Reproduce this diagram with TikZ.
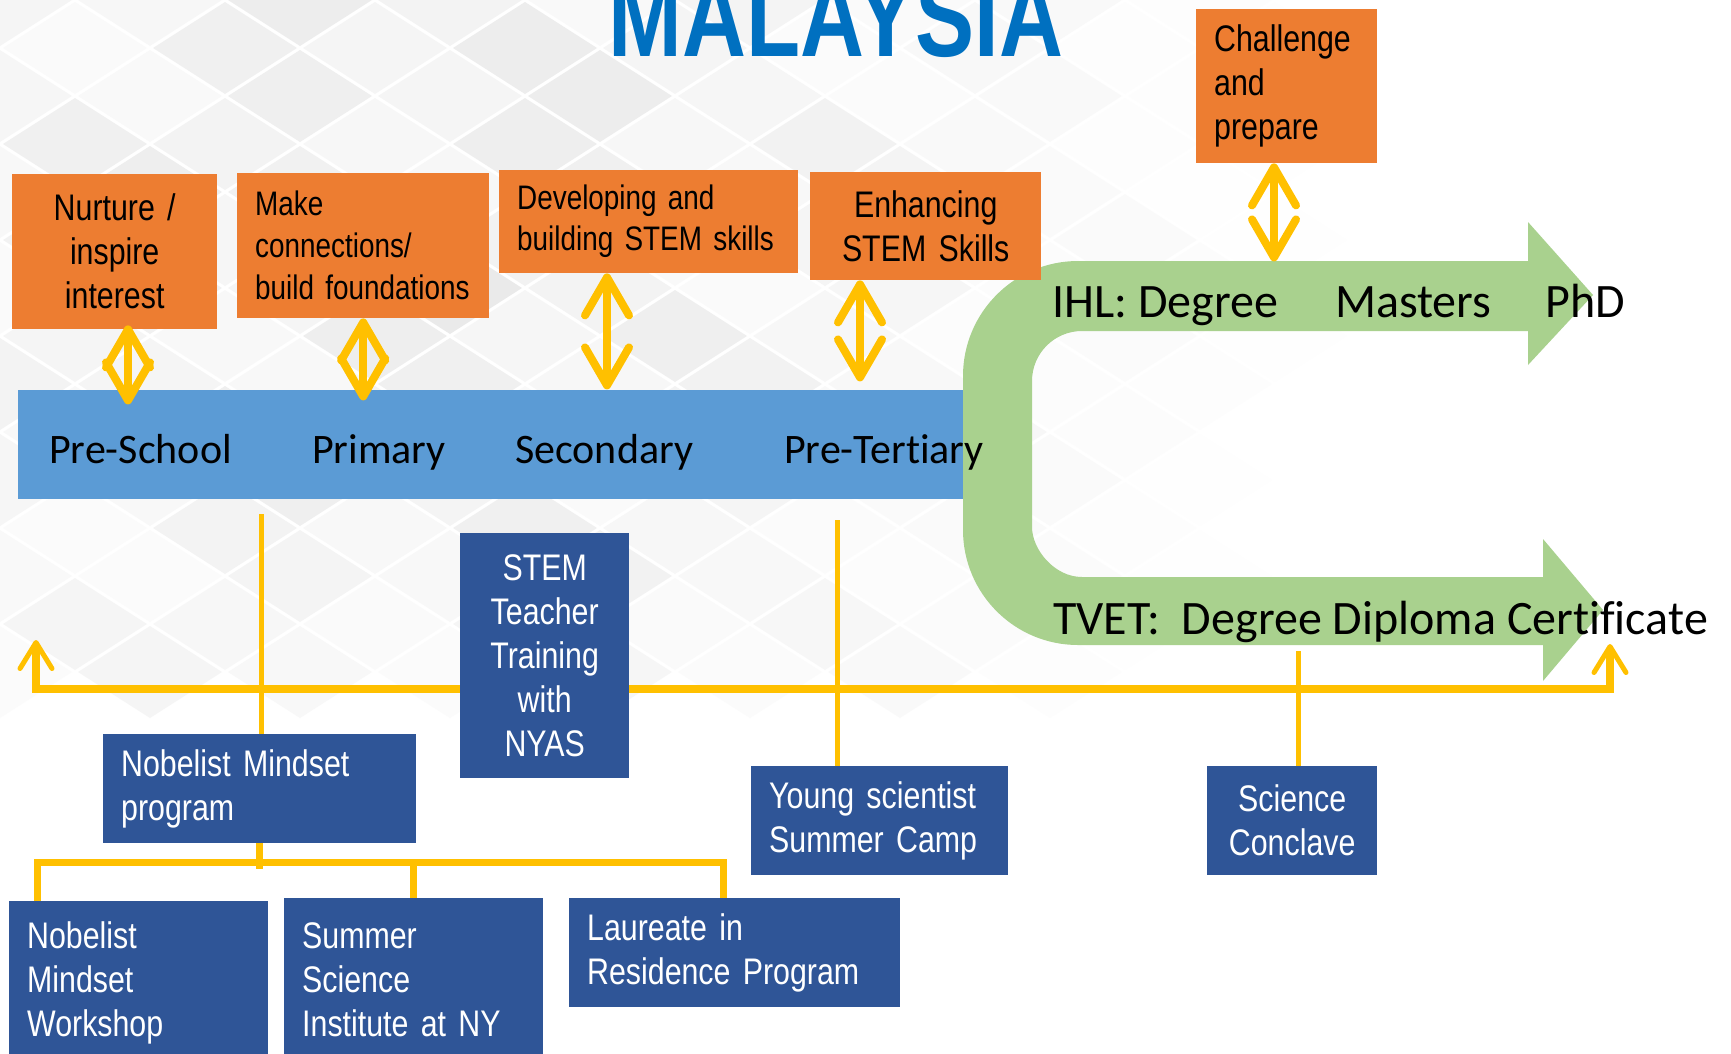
\documentclass[tikz,border=0pt]{standalone}
\usepackage{fontspec}
\setmainfont{Carlito}[Ligatures=NoCommon]
\newfontfamily\narrowfont[FakeStretch=0.82,WordSpace=0.6]{Liberation Sans}
\newfontfamily\titlefont[FakeStretch=0.77]{Liberation Sans}
\usepackage{xcolor}
\usetikzlibrary{arrows.meta,positioning}
\definecolor{goalorange}{HTML}{ED7D31}
\definecolor{stageblue}{HTML}{5B9BD5}
\definecolor{progblue}{HTML}{2F5597}
\definecolor{pathgreen}{HTML}{A9D18E}
\definecolor{linkyellow}{HTML}{FFC000}
\definecolor{titleblue}{HTML}{0070C0}
\tikzset{
  goal/.style={fill=goalorange,inner xsep=18pt,inner ysep=0pt,
    font=\narrowfont\fontsize{37}{44}\selectfont},
  course/.style={fill=progblue,text=white,inner xsep=18pt,inner ysep=0pt,
    font=\narrowfont\fontsize{37}{44}\selectfont},
  level/.style={inner sep=0pt,font=\fontsize{42}{50}\selectfont},
  track/.style={inner sep=0pt,font=\fontsize{48}{58}\selectfont},
  link/.style={draw=linkyellow,line width=8pt,
    {Straight Barb[length=38pt,width=44pt,round]}-{Straight Barb[length=38pt,width=44pt,round]}},
  timeline/.style={draw=linkyellow,line width=8pt,
    {Straight Barb[length=26pt,width=32pt,line width=5pt,round]}-{Straight Barb[length=26pt,width=32pt,line width=5pt,round]}},
  branch/.style={draw=linkyellow,line width=5pt},
  treeline/.style={draw=linkyellow,line width=7pt}
}

\begin{document}
\begin{tikzpicture}[x=1pt,y=-1pt]
  \useasboundingbox (0,0) rectangle (1731,1053);
  \clip (0,0) rectangle (1731,1053);
  \fill[white] (0,0) rectangle (1731,1053);
  % tiled backdrop
  \foreach \row in {0,...,14} {
    \foreach \col in {0,...,12} {
      \pgfmathsetmacro{\cx}{(\col-1)*150+mod(\row,2)*75}
      \pgfmathsetmacro{\cy}{\row*48}
      \pgfmathsetmacro{\fade}{max(0,1-sqrt(((\cx-400)/100)^2+((\cy-200)/100)^2)/9)}
      \pgfmathsetmacro{\shade}{3+mod(\row*7+\col*3,5)*1.5}
      \fill[black!\shade,opacity=\fade] (\cx-72,\cy) -- (\cx,\cy-46) -- (\cx+72,\cy) -- (\cx,\cy+46) -- cycle;
    }
  }
  \node[font=\titlefont\bfseries\fontsize{115}{115}\selectfont,text=titleblue,anchor=base,inner sep=0pt]
    (title) at (836,56) {MALAYSIA};

  % levels
  \node[fill=stageblue,minimum width=1014pt,minimum height=109pt,inner sep=0pt,anchor=north west]
    (stages) at (18,390) {};
  \fill[pathgreen] (1528,261) -- (1528,222) -- (1593,295) -- (1528,365) -- (1528,331)
    -- (1082,331) .. controls (1054.4,331) and (1032,353.4) .. (1032,381)
    -- (1032,527) .. controls (1032,549.4) and (1054.4,577) .. (1082,577)
    -- (1543,577) -- (1543,539) -- (1603,610) -- (1543,681) -- (1543,645)
    -- (1078,645) .. controls (1014.5,645) and (963,593.5) .. (963,530)
    -- (963,376) .. controls (963,312.5) and (1014.5,261) .. (1078,261) -- cycle;
  \node[level,anchor=base west] (pre) at (49,463) {Pre-School};
  \node[level,anchor=base west] (pri) at (312,463) {Primary};
  \node[level,anchor=base west] (sec) at (515,463) {Secondary};
  \node[level,anchor=base west] (pter) at (784,463) {Pre-Tertiary};
  \node[track,anchor=base west] (ihl) at (1052,317)
    {IHL: Degree\hspace{57pt}Masters\hspace{54pt}PhD};
  \node[track,anchor=base west] (tvet) at (1053,634)
    {TVET:\ \ Degree Diploma Certificate};

  % aims
  \node[goal,anchor=north west,text width=169pt,align=center,minimum height=155pt]
    (nurture) at (12,174) {Nurture /\\inspire\\interest};
  \node[goal,anchor=north west,text width=216pt,align=left,minimum height=145pt,
    font=\narrowfont\fontsize{34}{42}\selectfont]
    (make) at (237,173) {Make\\connections/\\build foundations};
  \node[goal,anchor=north west,text width=263pt,align=left,minimum height=103pt,
    font=\narrowfont\fontsize{34}{41}\selectfont]
    (dev) at (499,170) {Developing and\\building STEM skills};
  \node[goal,anchor=north west,text width=195pt,align=center,minimum height=108pt]
    (enh) at (810,172) {Enhancing\\STEM Skills};
  \node[goal,anchor=north west,text width=145pt,align=left,minimum height=154pt]
    (chal) at (1196,9) {Challenge\\and\\prepare};

  \draw[link,shorten <=-4pt] (nurture.south -| 128,0) -- ++(0,75);
  \draw[link] (make.south) -- ++(0,82);
  \draw[link] (dev.south -| 607,0) -- ++(0,116);
  \draw[link] (enh.south -| 860,0) -- ++(0,101);
  \draw[link] (chal.south -| 1274,0) -- ++(0,98);

  % programmes
  \coordinate (tl-a) at (36,640);
  \coordinate (tl-b) at (1610,644);
  \draw[timeline] (tl-a) |- (tl-b |- 0,689) -- (tl-b);

  \node[course,anchor=north west,text width=133pt,align=center,minimum height=245pt]
    (stem) at (460,533) {STEM\\Teacher\\Training\\with\\NYAS};
  \node[course,anchor=north west,text width=277pt,align=left,minimum height=109pt]
    (nobprog) at (103,734) {Nobelist Mindset\\program};
  \node[course,anchor=north west,text width=221pt,align=left,minimum height=109pt]
    (young) at (751,766) {Young scientist\\Summer Camp};
  \node[course,anchor=north west,text width=134pt,align=center,minimum height=109pt]
    (conc) at (1207,766) {Science\\Conclave};
  \node[course,anchor=north west,text width=223pt,align=left,minimum height=164pt]
    (work) at (9,901) {Nobelist\\Mindset\\Workshop};
  \node[course,anchor=north west,text width=223pt,align=left,minimum height=164pt]
    (ssi) at (284,898) {Summer\\Science\\Institute at NY};
  \node[course,anchor=north west,text width=295pt,align=left,minimum height=109pt]
    (lir) at (569,898) {Laureate in\\Residence Program};

  \draw[branch] (nobprog.north -| 261,0) -- ++(0,-220);
  \draw[branch] (young.north -| 837,0) -- ++(0,-246);
  \draw[branch] (conc.north -| 1298,0) -- ++(0,-115);

  \coordinate (fork) at (259,862);
  \draw[treeline] (nobprog.south) -- ++(0,26);
  \draw[treeline] (work.north -| 37,0) |- (fork) -| (lir.north -| 723,0);
  \draw[treeline] (ssi.north) -- (ssi.north |- fork);
\end{tikzpicture}
\end{document}
